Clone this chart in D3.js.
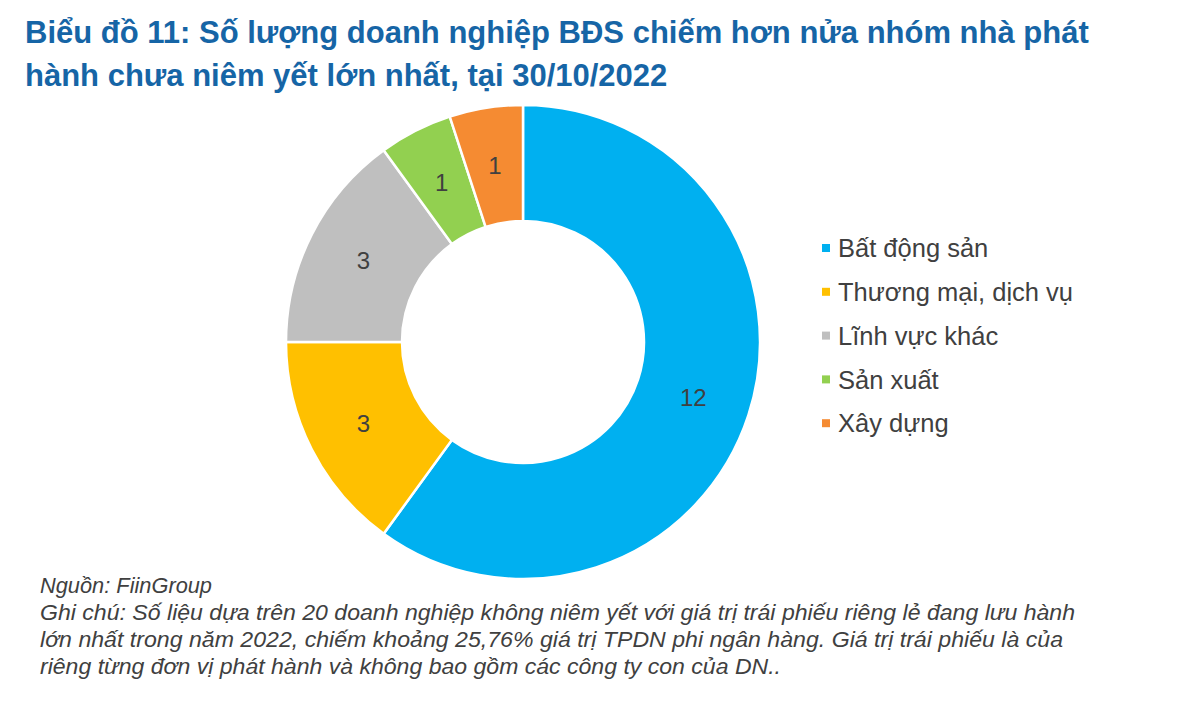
<!DOCTYPE html>
<html>
<head>
<meta charset="utf-8">
<script src="https://cdn.jsdelivr.net/npm/d3@7"></script>
<style>
  body { margin: 0; background: #fff; }
  svg { display: block; font-family: "Liberation Sans", Arial, sans-serif; }
</style>
</head>
<body>
<svg class="chart" width="1200" height="722"></svg>
<script>
var categories = ["Bất động sản", "Thương mại, dịch vụ", "Lĩnh vực khác", "Sản xuất", "Xây dựng"];
var counts = [12, 3, 3, 1, 1];
var colors = ["#00B0F0", "#FFC000", "#BFBFBF", "#92D050", "#F58B32"];
var titleLines = [
    "Biểu đồ 11: Số lượng doanh nghiệp BĐS chiếm hơn nửa nhóm nhà phát",
    "hành chưa niêm yết lớn nhất, tại 30/10/2022"
];
var noteLines = [
    "Nguồn: FiinGroup",
    "Ghi chú: Số liệu dựa trên 20 doanh nghiệp không niêm yết với giá trị trái phiếu riêng lẻ đang lưu hành",
    "lớn nhất trong năm 2022, chiếm khoảng 25,76% giá trị TPDN phi ngân hàng. Giá trị trái phiếu là của",
    "riêng từng đơn vị phát hành và không bao gồm các công ty con của DN.."
];
// widths the footnote lines take in the source image
var noteWidths = [172, 1035, 1023, 741];

var svg = d3.select("svg.chart");
var textColor = "#404040";

// title
svg.append("g").selectAll("text")
    .data(titleLines)
    .enter()
    .append("text")
    .attr("x", 25)
    .attr("y", function (d, i) { return 43 + i * 43; })
    .attr("fill", "#1665A6")
    .attr("font-size", 31)
    .attr("font-weight", "bold")
    .text(function (d) { return d; });

// donut
var cx = 523, cy = 342;
var outerR = 237, innerR = 121;

var pie = d3.pie()
    .sort(null)
    .value(function (d) { return d; });
var arc = d3.arc()
    .innerRadius(innerR)
    .outerRadius(outerR);

var color = d3.scaleOrdinal()
    .domain(categories)
    .range(colors);

var arcs = pie(counts);
var donut = svg.append("g")
    .attr("transform", "translate(" + cx + "," + cy + ")");

donut.selectAll("path")
    .data(arcs)
    .enter()
    .append("path")
    .attr("d", arc)
    .attr("fill", function (d, i) { return color(categories[i]); })
    .attr("stroke", "#fff")
    .attr("stroke-width", 2.5);

donut.selectAll("text")
    .data(arcs)
    .enter()
    .append("text")
    .attr("transform", function (d) { return "translate(" + arc.centroid(d) + ")"; })
    .attr("text-anchor", "middle")
    .attr("dy", "0.36em")
    .attr("font-size", 24)
    .attr("fill", textColor)
    .text(function (d) { return d.data; });

// legend
var legend = svg.append("g")
    .attr("transform", "translate(822,248)");
var rows = legend.selectAll("g")
    .data(categories)
    .enter()
    .append("g")
    .attr("transform", function (d, i) { return "translate(0," + (i * 43.8) + ")"; });
rows.append("rect")
    .attr("x", 0)
    .attr("y", -4)
    .attr("width", 8)
    .attr("height", 8)
    .attr("fill", function (d) { return color(d); });
rows.append("text")
    .attr("x", 16)
    .attr("dy", "0.36em")
    .attr("font-size", 25.5)
    .attr("fill", textColor)
    .text(function (d) { return d; });

// footnote
svg.append("g").selectAll("text")
    .data(noteLines)
    .enter()
    .append("text")
    .attr("x", 40)
    .attr("y", function (d, i) { return 593 + i * 27; })
    .attr("font-size", 22)
    .attr("font-style", "italic")
    .attr("fill", textColor)
    .attr("textLength", function (d, i) { return noteWidths[i]; })
    .attr("lengthAdjust", "spacingAndGlyphs")
    .text(function (d) { return d; });
</script>
</body>
</html>
